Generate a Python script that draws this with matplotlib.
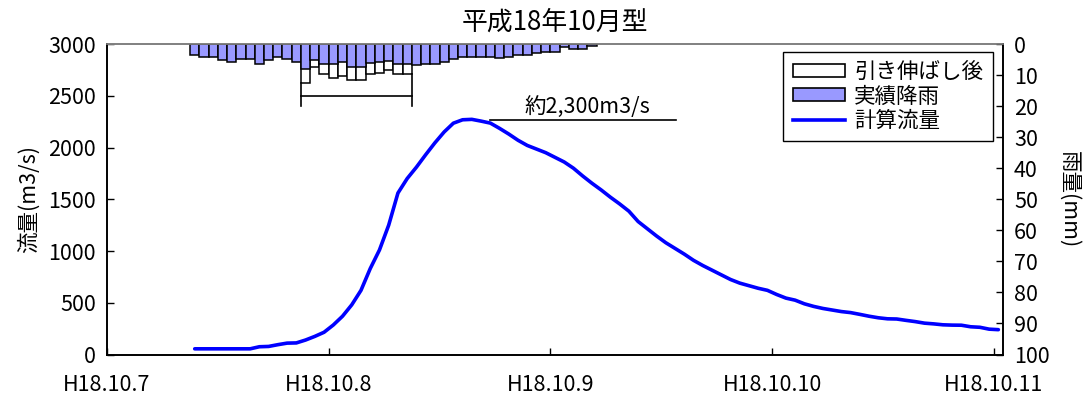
import numpy as np
import matplotlib
matplotlib.use('Agg')
import matplotlib.pyplot as plt
from matplotlib.patches import Patch
from matplotlib.lines import Line2D

plt.rcParams['font.family'] = ['Noto Sans CJK JP', 'DejaVu Sans']
plt.rcParams['font.size'] = 15.5

# hours counted from H18.10.7 0:00
day_ticks = [0, 24, 48, 72, 96]
day_labels = ['H18.10.7', 'H18.10.8', 'H18.10.9', 'H18.10.10', 'H18.10.11']

# hourly rainfall (mm), bars start at hour 9
rain_start = 9
rain_actual = [3.5, 4.3, 4.3, 5.2, 5.7, 4.9, 4.9, 6.5, 5.2, 4.3, 4.9, 5.7,
               8.2, 5.0, 6.5, 6.5, 5.7, 7.3, 7.3, 6.2, 5.7, 5.4, 6.3, 6.4,
               6.8, 6.5, 6.5, 5.7, 4.9, 4.3, 4.3, 4.3, 4.3, 4.6, 4.3, 3.5,
               3.5, 3.0, 2.5, 2.5, 1.1, 1.7, 1.7, 0.5]
# stretched rainfall (引き伸ばし後), hours 21-32
stretch_start = 21
rain_stretched = [12.5, 7.3, 9.8, 10.9, 10.3, 11.6, 11.6, 9.8, 9.2, 8.4, 9.8, 9.8]

# calculated discharge (m3/s), hourly from 9.5 h
flow_start = 9.5
flow = [55, 55, 55, 55, 55, 55, 55, 75, 78, 95,
        110, 112, 140, 175, 215, 285, 370, 480, 620, 830,
        1010, 1250, 1560, 1700, 1810, 1930, 2045, 2150, 2235, 2268,
        2272, 2255, 2236, 2185, 2130, 2070, 2020, 1985, 1950, 1905,
        1860, 1800, 1725, 1655, 1590, 1520, 1455, 1385, 1285, 1215,
        1145, 1080, 1025, 970, 910, 860, 815, 770, 725, 690,
        665, 640, 620, 580, 545, 525, 490, 465, 445, 430,
        415, 405, 388, 370, 355, 345, 343, 330, 318, 303,
        296, 287, 284, 283, 268, 263, 245, 240]

peak_text = '約2,300m3/s'
peak_level = 2270

fig = plt.figure(figsize=(10.87, 3.99), dpi=100)
ax = fig.add_axes([0.0984, 0.1115, 0.8243, 0.7782])
ax2 = ax.twinx()

# discharge
t_flow = flow_start + np.arange(len(flow))
ax.plot(t_flow, flow, color='#0000FF', lw=2.6, solid_capstyle='round', zorder=3)
ax.plot([41.5, 61.6], [peak_level, peak_level], color='black', lw=1.2)
ax.text(52, peak_level + 20, peak_text, ha='center', va='bottom')

ax.set_xlim(0, 97)
ax.set_ylim(0, 3000)
ax.set_yticks(np.arange(0, 3001, 500))
ax.set_xticks(day_ticks)
ax.set_xticklabels(day_labels)
ax.set_ylabel('流量(m3/s)', labelpad=6)
ax.tick_params(direction='in', length=5, width=1)
ax.tick_params(axis='x', pad=14)
ax.tick_params(axis='y', pad=8)

# rainfall on inverted right axis
t_rain = rain_start + np.arange(len(rain_actual))
t_str = stretch_start + np.arange(len(rain_stretched))
ax2.bar(t_str, rain_stretched, width=1, align='edge', color='white',
        edgecolor='black', lw=1.1)
ax2.bar(t_rain, rain_actual, width=1, align='edge', color='#9999FF',
        edgecolor='black', lw=1.1)
# bracket under stretched period
s0 = stretch_start
s1 = stretch_start + len(rain_stretched)
ax2.plot([s0, s0], [rain_stretched[0], 20], color='black', lw=1.2)
ax2.plot([s1, s1], [rain_stretched[-1], 20], color='black', lw=1.2)
ax2.plot([s0, s1], [16.8, 16.8], color='black', lw=1.2)

ax2.set_ylim(100, 0)
ax2.set_yticks(np.arange(0, 101, 10))
ax2.set_ylabel('雨量(mm)', rotation=270, labelpad=22)
ax2.tick_params(direction='in', length=5, width=1, pad=8)

for a in (ax, ax2):
    for s in ('left', 'bottom', 'right'):
        a.spines[s].set_linewidth(1.2)
        a.spines[s].set_color('black')
    a.spines['top'].set_color('#808080')
    a.spines['top'].set_linewidth(1.2)

ax.set_title('平成18年10月型', pad=10)

handles = [Patch(facecolor='white', edgecolor='black', lw=1.2),
           Patch(facecolor='#9999FF', edgecolor='black', lw=1.2),
           Line2D([0], [0], color='#0000FF', lw=2.6)]
labels = ['引き伸ばし後', '実績降雨', '計算流量']
leg = ax2.legend(handles, labels, loc='upper right',
                 bbox_to_anchor=(0.9135, 0.8704), bbox_transform=fig.transFigure,
                 borderaxespad=0, fancybox=False, framealpha=1,
                 edgecolor='black', handlelength=2.4, handleheight=0.55,
                 handletextpad=0.45, labelspacing=0.1, borderpad=0.45)
leg.get_frame().set_linewidth(1.0)
leg._legend_box.align = 'left'

fig.savefig('out.png', dpi=100)
